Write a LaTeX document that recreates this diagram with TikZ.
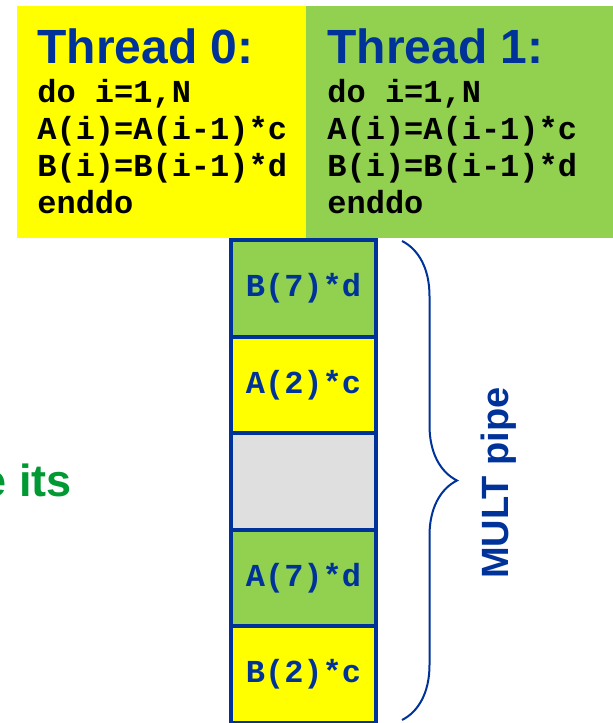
\documentclass[tikz,border=0pt]{standalone}
\usepackage{fontspec}
\setmainfont{Liberation Sans}
\newfontfamily\codefont{Liberation Mono}
\usetikzlibrary{positioning,decorations.pathreplacing}
\definecolor{threadyellow}{RGB}{255,255,0}
\definecolor{threadgreen}{RGB}{146,208,80}
\definecolor{darkblue}{RGB}{0,51,153}
\definecolor{textgreen}{RGB}{0,153,51}
\definecolor{idlegray}{RGB}{223,223,223}

\begin{document}
\begin{tikzpicture}[x=0.5pt,y=-0.5pt,
  heading/.style={anchor=base west,inner sep=0,text=darkblue,
    font=\fontsize{24}{28}\selectfont\bfseries},
  code/.style={anchor=base west,inner sep=0,align=left,
    font=\codefont\fontsize{16}{18.5}\selectfont\bfseries},
  stage/.style={draw=darkblue,line width=2pt,minimum width=72.5pt,
    minimum height=48.3pt,inner sep=0,outer sep=0,text=darkblue,
    font=\codefont\fontsize{16}{18}\selectfont\bfseries},
  pipebrace/.style={draw=darkblue,line width=1pt,decorate,
    decoration={brace,amplitude=27.5pt}}]
  \useasboundingbox (0,0) rectangle (613,723);
  % the two threads
  \fill[threadyellow] (17,6) rectangle (306,238);
  \fill[threadgreen] (306,6) rectangle (613,238);
  \node[heading] (head0) at (37,63) {Thread 0:};
  \node[code] (code0) at (37,213) {do i=1,N\\A(i)=A(i-1)*c\\B(i)=B(i-1)*d\\enddo};
  \node[heading] (head1) at (327,63) {Thread 1:};
  \node[code] (code1) at (327,213) {do i=1,N\\A(i)=A(i-1)*c\\B(i)=B(i-1)*d\\enddo};
  % the pipeline stages
  \node[stage,fill=threadgreen] (st1) at (303.5,288.3) {B(7)*d};
  \node[stage,fill=threadyellow,below=0pt of st1] (st2) {A(2)*c};
  \node[stage,fill=idlegray,below=0pt of st2] (st3) {};
  \node[stage,fill=threadgreen,below=0pt of st3] (st4) {A(7)*d};
  \node[stage,fill=threadyellow,below=0pt of st4] (st5) {B(2)*c};
  \coordinate (bracetop) at (402,241);
  \coordinate (bracebot) at (402,720);
  \draw[pipebrace] (bracetop) -- (bracebot);
  \node[anchor=base,rotate=90,inner sep=0,text=darkblue,
    font=\fontsize{19}{22}\selectfont\bfseries] (mult) at (508,483) {MULT pipe};
  \begin{scope}
    \clip (0,0) rectangle (613,723);
    \node[anchor=base east,inner sep=0,text=textgreen,
      font=\fontsize{22.5}{26}\selectfont\bfseries] (its) at (72,496) {e its};
  \end{scope}
\end{tikzpicture}
\end{document}
